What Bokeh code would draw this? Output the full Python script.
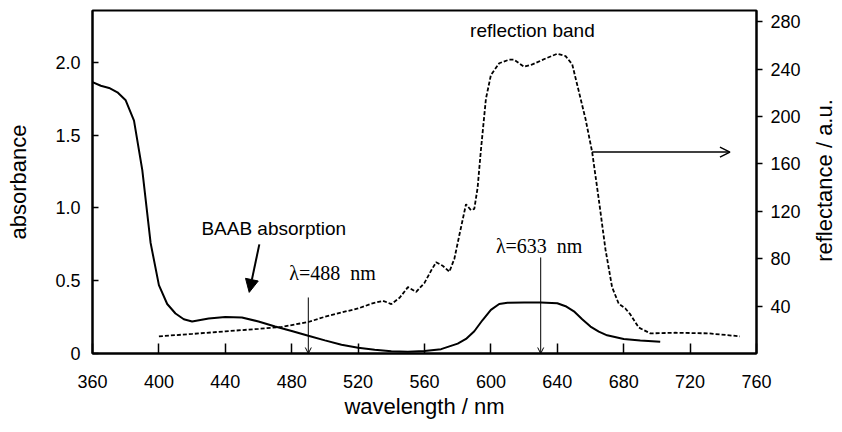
import math
from bokeh.plotting import figure
from bokeh.models import (Range1d, LinearAxis, FixedTicker, Label, Arrow,
                          OpenHead, NormalHead, ColumnDataSource)
from bokeh.embed import file_html
from bokeh.resources import INLINE

# ---- data ----
wl_abs = [360, 365, 370, 375, 380, 385, 390, 395, 400, 405, 410, 415, 420,
          430, 440, 450, 460, 470, 480, 490, 500, 510, 520, 530, 540, 550,
          560, 570, 580, 585, 590, 595, 600, 605, 610, 620, 630, 640, 645,
          650, 655, 660, 665, 670, 680, 690, 702]
absorbance = [1.865, 1.84, 1.825, 1.795, 1.74, 1.60, 1.26, 0.76, 0.47, 0.34,
              0.275, 0.235, 0.22, 0.24, 0.25, 0.248, 0.22, 0.185, 0.155, 0.122,
              0.09, 0.06, 0.04, 0.025, 0.015, 0.012, 0.017, 0.03, 0.068, 0.10,
              0.153, 0.23, 0.30, 0.34, 0.348, 0.35, 0.35, 0.345, 0.325, 0.29,
              0.235, 0.185, 0.15, 0.125, 0.10, 0.09, 0.08]

wl_ref = [400, 420, 440, 460, 474, 490, 500, 514, 520, 528, 535, 540, 545,
          550, 555, 560, 564, 567, 571, 575, 578, 581, 585, 588, 590, 592,
          594, 597, 600, 605, 611, 614, 617, 620, 625, 633, 640, 645, 649,
          653, 657, 661, 665, 669, 673, 677, 681, 684, 689, 696, 711, 731, 750]
reflectance = [14.5, 16.5, 18.7, 20.8, 22.4, 26.6, 31, 36, 38, 42, 44.5, 41.7,
               47, 56, 52, 59.6, 70, 77, 74, 69, 80, 100, 126, 121, 122, 140,
               172, 215, 235, 245, 248, 248, 245, 242, 244, 249, 253, 251, 244,
               221, 198, 170, 130, 88, 56, 42, 38, 33, 22, 17, 17.5, 17, 14.5]

x_ticks = [360, 400, 440, 480, 520, 560, 600, 640, 680, 720, 760]
abs_ticks = [0, 0.5, 1.0, 1.5, 2.0]
abs_tick_labels = ["0", "0.5", "1.0", "1.5", "2.0"]
ref_ticks = [40, 80, 120, 160, 200, 240, 280]

laser_lines = [490, 630]          # drawn positions of the 488 / 633 nm markers
laser_labels = ["λ=488\u00a0\u00a0nm", "λ=633\u00a0\u00a0nm"]

SANS = "Liberation Sans"
SERIF = "Liberation Serif"

p = figure(frame_width=664, frame_height=343,
           min_border_left=92, min_border_right=85,
           min_border_top=10, min_border_bottom=78,
           x_range=Range1d(360, 760), y_range=Range1d(0, 2.357),
           output_backend="svg", toolbar_location=None)
p.extra_y_ranges = {"refl": Range1d(0, 289.5)}
p.grid.visible = False
p.outline_line_color = "black"
p.outline_line_width = 2
p.background_fill_color = "white"
p.border_fill_color = "white"

# bottom axis
xa = p.xaxis[0]
xa.ticker = FixedTicker(ticks=x_ticks)
xa.axis_label = "wavelength / nm"
xa.major_tick_in = 10
xa.major_tick_out = 0
xa.minor_tick_line_color = None
xa.major_label_standoff = 21
xa.axis_label_standoff = 3

# left axis
ya = p.yaxis[0]
ya.ticker = FixedTicker(ticks=abs_ticks)
ya.major_label_overrides = {t: l for t, l in zip(abs_ticks, abs_tick_labels)}
ya.axis_label = "absorbance"
ya.major_tick_in = 6
ya.major_tick_out = 0
ya.minor_tick_line_color = None
ya.major_label_standoff = 12
ya.axis_label_standoff = 21

# right axis (label reads bottom-to-top, starting from the lower part of the axis)
ra = LinearAxis(y_range_name="refl", ticker=FixedTicker(ticks=ref_ticks))
ra.major_tick_in = 0
ra.major_tick_out = 6
ra.minor_tick_line_color = None
ra.major_label_standoff = 8
ra.axis_label_standoff = 21
props = ra.properties()
if "axis_label_orientation" in props and "axis_label_align" in props:
    ra.axis_label_orientation = math.pi / 2
    ra.axis_label_align = "start"
    ra.axis_label = "\u00a0" * 15 + "reflectance / a.u."
else:
    ra.axis_label = "reflectance / a.u."
p.add_layout(ra, "right")

for ax in (xa, ya, ra):
    ax.axis_line_color = "black"
    ax.axis_line_width = 2
    ax.major_tick_line_color = "black"
    ax.major_tick_line_width = 1.5
    ax.major_label_text_font = SANS
    ax.major_label_text_font_size = "18px"
    ax.major_label_text_color = "black"
    ax.axis_label_text_font = SANS
    ax.axis_label_text_font_size = "22px"
    ax.axis_label_text_font_style = "normal"
    ax.axis_label_text_color = "black"

src_abs = ColumnDataSource(dict(x=wl_abs, y=absorbance))
src_ref = ColumnDataSource(dict(x=wl_ref, y=reflectance))
p.line("x", "y", source=src_abs, line_color="black", line_width=2)
p.line("x", "y", source=src_ref, line_color="black", line_width=1.8,
       line_dash="4 2", y_range_name="refl")

# annotations
p.add_layout(Label(x=625, y=273, y_range_name="refl", text="reflection band",
                   text_align="center", text_baseline="middle",
                   text_font=SANS, text_font_size="19px", text_color="black"))
p.add_layout(Arrow(x_start=661, y_start=170, x_end=744, y_end=170,
                   y_range_name="refl", line_width=1.5, line_color="black",
                   end=OpenHead(size=10, line_width=1.5, line_color="black")))

p.add_layout(Label(x=425.6, y=0.86, text="BAAB absorption",
                   text_align="left", text_baseline="middle",
                   text_font=SANS, text_font_size="19px", text_color="black"))
p.add_layout(Arrow(x_start=460.5, y_start=0.75, x_end=454.4, y_end=0.42,
                   line_width=2, line_color="black",
                   end=NormalHead(size=13, fill_color="black", line_color="black")))

label_pos = [(478.5, 0.55, 0.385), (603.0, 0.742, 0.66)]
for xl, txt, (lx, ly, top) in zip(laser_lines, laser_labels, label_pos):
    p.add_layout(Label(x=lx, y=ly, text=txt, text_align="left",
                       text_baseline="middle", text_font=SERIF,
                       text_font_size="20px", text_color="black"))
    p.add_layout(Arrow(x_start=xl, y_start=top, x_end=xl, y_end=0,
                       line_width=1, line_color="black",
                       end=OpenHead(size=6, line_width=1, line_color="black")))

open("out.html", "w").write(file_html(p, INLINE))
